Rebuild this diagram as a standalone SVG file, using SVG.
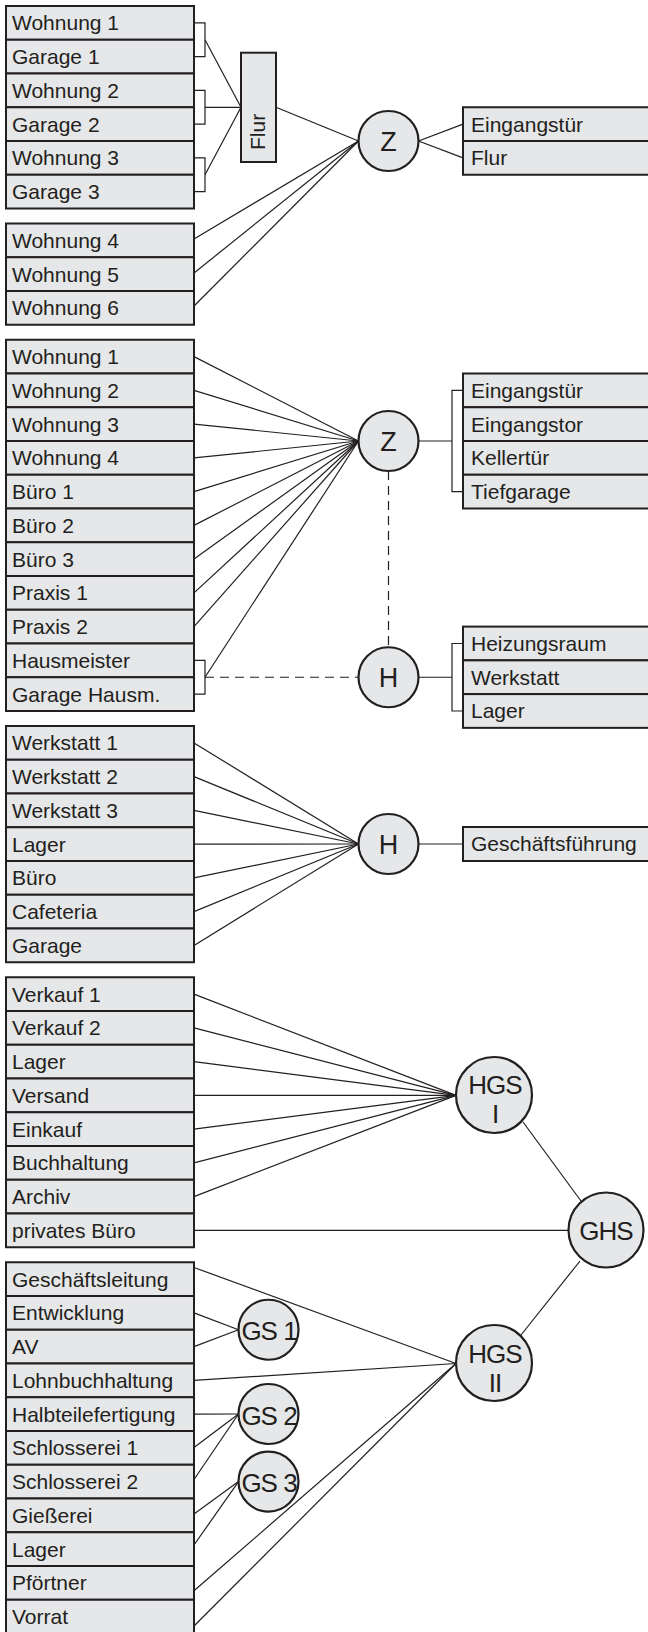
<svg xmlns="http://www.w3.org/2000/svg" width="648" height="1632" viewBox="0 0 648 1632">
<style>
.box{fill:#e6e7e8;stroke:#231f20;stroke-width:2}
.t{font-family:"Liberation Sans",Arial,sans-serif;font-size:21px;fill:#231f20}
.c{fill:#e6e7e8;stroke:#231f20;stroke-width:2.2}
.ct{font-family:"Liberation Sans",Arial,sans-serif;font-size:27px;fill:#231f20;text-anchor:middle}
.cs{font-family:"Liberation Sans",Arial,sans-serif;font-size:26px;fill:#231f20;text-anchor:middle;letter-spacing:-1px}
.ln{stroke:#231f20;stroke-width:1.2;fill:none}
.dash{stroke-dasharray:9 6}
</style>
<rect width="648" height="1632" fill="#ffffff"/>
<g id="connectors">
  <!-- Block 1 brackets to Flur -->
  <path class="ln" d="M194 22.9H205V56.6H194"/>
  <path class="ln" d="M194 90.4H205V124.1H194"/>
  <path class="ln" d="M194 157.9H205V191.6H194"/>
  <line class="ln" x1="205" y1="39.8" x2="241" y2="107.3"/>
  <line class="ln" x1="205" y1="107.3" x2="241" y2="107.3"/>
  <line class="ln" x1="205" y1="174.8" x2="241" y2="107.3"/>
  <line class="ln" x1="276" y1="107.3" x2="358.5" y2="141"/>
  <line class="ln" x1="194" y1="239" x2="358.5" y2="141"/>
  <line class="ln" x1="194" y1="273" x2="358.5" y2="141"/>
  <line class="ln" x1="194" y1="306" x2="358.5" y2="141"/>
  <line class="ln" x1="418.5" y1="141" x2="463" y2="124.1"/>
  <line class="ln" x1="418.5" y1="141" x2="463" y2="157.9"/>
  <!-- Block 3 to Z -->
  <line class="ln" x1="194" y1="356.6" x2="358.5" y2="441"/>
  <line class="ln" x1="194" y1="390.4" x2="358.5" y2="441"/>
  <line class="ln" x1="194" y1="424.1" x2="358.5" y2="441"/>
  <line class="ln" x1="194" y1="457.9" x2="358.5" y2="441"/>
  <line class="ln" x1="194" y1="491.6" x2="358.5" y2="441"/>
  <line class="ln" x1="194" y1="525.4" x2="358.5" y2="441"/>
  <line class="ln" x1="194" y1="559.1" x2="358.5" y2="441"/>
  <line class="ln" x1="194" y1="592.9" x2="358.5" y2="441"/>
  <line class="ln" x1="194" y1="626.6" x2="358.5" y2="441"/>
  <path class="ln" d="M194 660.4H205V694.1H194"/>
  <line class="ln" x1="205" y1="677.25" x2="358.5" y2="441"/>
  <line class="ln dash" x1="205" y1="677.25" x2="358.5" y2="677.25"/>
  <line class="ln dash" x1="388.5" y1="471" x2="388.5" y2="647.25"/>
  <line class="ln" x1="418.5" y1="441" x2="452" y2="441"/>
  <path class="ln" d="M463 390.4H452V491.6H463"/>
  <line class="ln" x1="418.5" y1="677.25" x2="452" y2="677.25"/>
  <path class="ln" d="M463 643.5H452V711H463"/>
  <!-- Block 4 to H -->
  <line class="ln" x1="194" y1="742.9" x2="358.5" y2="844"/>
  <line class="ln" x1="194" y1="776.6" x2="358.5" y2="844"/>
  <line class="ln" x1="194" y1="810.4" x2="358.5" y2="844"/>
  <line class="ln" x1="194" y1="844.1" x2="358.5" y2="844"/>
  <line class="ln" x1="194" y1="877.9" x2="358.5" y2="844"/>
  <line class="ln" x1="194" y1="911.6" x2="358.5" y2="844"/>
  <line class="ln" x1="194" y1="945.4" x2="358.5" y2="844"/>
  <line class="ln" x1="418.5" y1="844" x2="463" y2="844"/>
  <!-- Block 5 to HGS I -->
  <line class="ln" x1="194" y1="994.1" x2="456" y2="1095.4"/>
  <line class="ln" x1="194" y1="1027.9" x2="456" y2="1095.4"/>
  <line class="ln" x1="194" y1="1061.6" x2="456" y2="1095.4"/>
  <line class="ln" x1="194" y1="1095.4" x2="456" y2="1095.4"/>
  <line class="ln" x1="194" y1="1129.1" x2="456" y2="1095.4"/>
  <line class="ln" x1="194" y1="1162.9" x2="456" y2="1095.4"/>
  <line class="ln" x1="194" y1="1196.6" x2="456" y2="1095.4"/>
  <line class="ln" x1="194" y1="1230.4" x2="568.5" y2="1230.4"/>
  <line class="ln" x1="523" y1="1122" x2="581" y2="1201"/>
  <line class="ln" x1="580" y1="1261" x2="521" y2="1335"/>
  <!-- Block 6 -->
  <line class="ln" x1="194" y1="1267.5" x2="456" y2="1363.5"/>
  <line class="ln" x1="194" y1="1380.4" x2="456" y2="1363.5"/>
  <line class="ln" x1="194" y1="1590.7" x2="456" y2="1363.5"/>
  <line class="ln" x1="194" y1="1626" x2="456" y2="1363.5"/>
  <line class="ln" x1="194" y1="1312.9" x2="238.5" y2="1329.75"/>
  <line class="ln" x1="194" y1="1346.6" x2="238.5" y2="1329.75"/>
  <line class="ln" x1="194" y1="1414.1" x2="238.5" y2="1414"/>
  <line class="ln" x1="194" y1="1447.6" x2="238.5" y2="1414"/>
  <line class="ln" x1="194" y1="1479.5" x2="238.5" y2="1414"/>
  <line class="ln" x1="194" y1="1514" x2="238.5" y2="1481.6"/>
  <line class="ln" x1="194" y1="1545" x2="238.5" y2="1481.6"/>
</g>

<!-- Block 1 -->
<g id="b1-wohnung1"><rect class="box" x="6" y="6" width="188" height="33.75"/><text class="t" x="12" y="30.3">Wohnung 1</text></g>
<g id="b1-garage1"><rect class="box" x="6" y="39.75" width="188" height="33.75"/><text class="t" x="12" y="64.05">Garage 1</text></g>
<g id="b1-wohnung2"><rect class="box" x="6" y="73.5" width="188" height="33.75"/><text class="t" x="12" y="97.8">Wohnung 2</text></g>
<g id="b1-garage2"><rect class="box" x="6" y="107.25" width="188" height="33.75"/><text class="t" x="12" y="131.55">Garage 2</text></g>
<g id="b1-wohnung3"><rect class="box" x="6" y="141" width="188" height="33.75"/><text class="t" x="12" y="165.3">Wohnung 3</text></g>
<g id="b1-garage3"><rect class="box" x="6" y="174.75" width="188" height="33.75"/><text class="t" x="12" y="199.05">Garage 3</text></g>
<!-- Block 2 -->
<g id="b2-wohnung4"><rect class="box" x="6" y="223.5" width="188" height="33.75"/><text class="t" x="12" y="247.8">Wohnung 4</text></g>
<g id="b2-wohnung5"><rect class="box" x="6" y="257.25" width="188" height="33.75"/><text class="t" x="12" y="281.55">Wohnung 5</text></g>
<g id="b2-wohnung6"><rect class="box" x="6" y="291" width="188" height="33.75"/><text class="t" x="12" y="315.3">Wohnung 6</text></g>
<!-- Flur -->
<g id="flur"><rect class="box" x="241" y="52.7" width="35" height="109.3"/><text class="t" transform="translate(265,150) rotate(-90)">Flur</text></g>
<!-- Z1 -->
<g id="z1"><circle class="c" cx="388.5" cy="141" r="30"/><text class="ct" x="388.5" y="151">Z</text></g>
<g id="r1-eingangstuer"><rect class="box" x="463" y="107.25" width="197" height="33.75"/><text class="t" x="471" y="131.55">Eingangstür</text></g>
<g id="r1-flur"><rect class="box" x="463" y="141" width="197" height="33.75"/><text class="t" x="471" y="165.3">Flur</text></g>

<!-- Block 3 -->
<g id="b3-wohnung1"><rect class="box" x="6" y="339.75" width="188" height="33.75"/><text class="t" x="12" y="364.05">Wohnung 1</text></g>
<g id="b3-wohnung2"><rect class="box" x="6" y="373.5" width="188" height="33.75"/><text class="t" x="12" y="397.8">Wohnung 2</text></g>
<g id="b3-wohnung3"><rect class="box" x="6" y="407.25" width="188" height="33.75"/><text class="t" x="12" y="431.55">Wohnung 3</text></g>
<g id="b3-wohnung4"><rect class="box" x="6" y="441" width="188" height="33.75"/><text class="t" x="12" y="465.3">Wohnung 4</text></g>
<g id="b3-buero1"><rect class="box" x="6" y="474.75" width="188" height="33.75"/><text class="t" x="12" y="499.05">Büro 1</text></g>
<g id="b3-buero2"><rect class="box" x="6" y="508.5" width="188" height="33.75"/><text class="t" x="12" y="532.8">Büro 2</text></g>
<g id="b3-buero3"><rect class="box" x="6" y="542.25" width="188" height="33.75"/><text class="t" x="12" y="566.55">Büro 3</text></g>
<g id="b3-praxis1"><rect class="box" x="6" y="576" width="188" height="33.75"/><text class="t" x="12" y="600.3">Praxis 1</text></g>
<g id="b3-praxis2"><rect class="box" x="6" y="609.75" width="188" height="33.75"/><text class="t" x="12" y="634.05">Praxis 2</text></g>
<g id="b3-hausmeister"><rect class="box" x="6" y="643.5" width="188" height="33.75"/><text class="t" x="12" y="667.8">Hausmeister</text></g>
<g id="b3-garagehausm"><rect class="box" x="6" y="677.25" width="188" height="33.75"/><text class="t" x="12" y="701.55">Garage Hausm.</text></g>
<g id="z2"><circle class="c" cx="388.5" cy="441" r="30"/><text class="ct" x="388.5" y="451">Z</text></g>
<g id="h1"><circle class="c" cx="388.5" cy="677.25" r="30"/><text class="ct" x="388.5" y="687.25">H</text></g>
<g id="r2-eingangstuer"><rect class="box" x="463" y="373.5" width="197" height="33.75"/><text class="t" x="471" y="397.8">Eingangstür</text></g>
<g id="r2-eingangstor"><rect class="box" x="463" y="407.25" width="197" height="33.75"/><text class="t" x="471" y="431.55">Eingangstor</text></g>
<g id="r2-kellertuer"><rect class="box" x="463" y="441" width="197" height="33.75"/><text class="t" x="471" y="465.3">Kellertür</text></g>
<g id="r2-tiefgarage"><rect class="box" x="463" y="474.75" width="197" height="33.75"/><text class="t" x="471" y="499.05">Tiefgarage</text></g>
<g id="r3-heizungsraum"><rect class="box" x="463" y="626.6" width="197" height="33.75"/><text class="t" x="471" y="650.9">Heizungsraum</text></g>
<g id="r3-werkstatt"><rect class="box" x="463" y="660.35" width="197" height="33.75"/><text class="t" x="471" y="684.65">Werkstatt</text></g>
<g id="r3-lager"><rect class="box" x="463" y="694.1" width="197" height="33.75"/><text class="t" x="471" y="718.4">Lager</text></g>

<!-- Block 4 -->
<g id="b4-werkstatt1"><rect class="box" x="6" y="726" width="188" height="33.75"/><text class="t" x="12" y="750.3">Werkstatt 1</text></g>
<g id="b4-werkstatt2"><rect class="box" x="6" y="759.75" width="188" height="33.75"/><text class="t" x="12" y="784.05">Werkstatt 2</text></g>
<g id="b4-werkstatt3"><rect class="box" x="6" y="793.5" width="188" height="33.75"/><text class="t" x="12" y="817.8">Werkstatt 3</text></g>
<g id="b4-lager"><rect class="box" x="6" y="827.25" width="188" height="33.75"/><text class="t" x="12" y="851.55">Lager</text></g>
<g id="b4-buero"><rect class="box" x="6" y="861" width="188" height="33.75"/><text class="t" x="12" y="885.3">Büro</text></g>
<g id="b4-cafeteria"><rect class="box" x="6" y="894.75" width="188" height="33.75"/><text class="t" x="12" y="919.05">Cafeteria</text></g>
<g id="b4-garage"><rect class="box" x="6" y="928.5" width="188" height="33.75"/><text class="t" x="12" y="952.8">Garage</text></g>
<g id="h2"><circle class="c" cx="388.5" cy="844" r="30"/><text class="ct" x="388.5" y="854">H</text></g>
<g id="r4-geschaeftsfuehrung"><rect class="box" x="463" y="827" width="197" height="34"/><text class="t" x="471" y="851">Geschäftsführung</text></g>

<!-- Block 5 -->
<g id="b5-verkauf1"><rect class="box" x="6" y="977.25" width="188" height="33.75"/><text class="t" x="12" y="1001.55">Verkauf 1</text></g>
<g id="b5-verkauf2"><rect class="box" x="6" y="1011" width="188" height="33.75"/><text class="t" x="12" y="1035.3">Verkauf 2</text></g>
<g id="b5-lager"><rect class="box" x="6" y="1044.75" width="188" height="33.75"/><text class="t" x="12" y="1069.05">Lager</text></g>
<g id="b5-versand"><rect class="box" x="6" y="1078.5" width="188" height="33.75"/><text class="t" x="12" y="1102.8">Versand</text></g>
<g id="b5-einkauf"><rect class="box" x="6" y="1112.25" width="188" height="33.75"/><text class="t" x="12" y="1136.55">Einkauf</text></g>
<g id="b5-buchhaltung"><rect class="box" x="6" y="1146" width="188" height="33.75"/><text class="t" x="12" y="1170.3">Buchhaltung</text></g>
<g id="b5-archiv"><rect class="box" x="6" y="1179.75" width="188" height="33.75"/><text class="t" x="12" y="1204.05">Archiv</text></g>
<g id="b5-privatesbuero"><rect class="box" x="6" y="1213.5" width="188" height="33.75"/><text class="t" x="12" y="1237.8">privates Büro</text></g>
<g id="hgs1"><circle class="c" cx="494" cy="1095" r="38"/><text class="cs" x="495" y="1094">HGS</text><text class="cs" x="495" y="1123">I</text></g>
<g id="ghs"><circle class="c" cx="606" cy="1230" r="37.5"/><text class="cs" x="606" y="1239.5">GHS</text></g>
<g id="hgs2"><circle class="c" cx="494" cy="1363" r="38"/><text class="cs" x="495" y="1362.5">HGS</text><text class="cs" x="495" y="1391.5">II</text></g>

<!-- Block 6 -->
<g id="b6-geschaeftsleitung"><rect class="box" x="6" y="1262.25" width="188" height="33.75"/><text class="t" x="12" y="1286.55">Geschäftsleitung</text></g>
<g id="b6-entwicklung"><rect class="box" x="6" y="1296" width="188" height="33.75"/><text class="t" x="12" y="1320.3">Entwicklung</text></g>
<g id="b6-av"><rect class="box" x="6" y="1329.75" width="188" height="33.75"/><text class="t" x="12" y="1354.05">AV</text></g>
<g id="b6-lohnbuchhaltung"><rect class="box" x="6" y="1363.5" width="188" height="33.75"/><text class="t" x="12" y="1387.8">Lohnbuchhaltung</text></g>
<g id="b6-halbteilefertigung"><rect class="box" x="6" y="1397.25" width="188" height="33.75"/><text class="t" x="12" y="1421.55">Halbteilefertigung</text></g>
<g id="b6-schlosserei1"><rect class="box" x="6" y="1431" width="188" height="33.75"/><text class="t" x="12" y="1455.3">Schlosserei 1</text></g>
<g id="b6-schlosserei2"><rect class="box" x="6" y="1464.75" width="188" height="33.75"/><text class="t" x="12" y="1489.05">Schlosserei 2</text></g>
<g id="b6-giesserei"><rect class="box" x="6" y="1498.5" width="188" height="33.75"/><text class="t" x="12" y="1522.8">Gießerei</text></g>
<g id="b6-lager"><rect class="box" x="6" y="1532.25" width="188" height="33.75"/><text class="t" x="12" y="1556.55">Lager</text></g>
<g id="b6-pfoertner"><rect class="box" x="6" y="1566" width="188" height="33.75"/><text class="t" x="12" y="1590.3">Pförtner</text></g>
<g id="b6-vorrat"><rect class="box" x="6" y="1599.75" width="188" height="33.75"/><text class="t" x="12" y="1624.05">Vorrat</text></g>
<g id="gs1"><circle class="c" cx="268.5" cy="1329.75" r="30"/><text class="cs" x="269" y="1340.25">GS 1</text></g>
<g id="gs2"><circle class="c" cx="268.5" cy="1414" r="30"/><text class="cs" x="269" y="1424.5">GS 2</text></g>
<g id="gs3"><circle class="c" cx="268.5" cy="1481.6" r="30"/><text class="cs" x="269" y="1492.1">GS 3</text></g>
</svg>
